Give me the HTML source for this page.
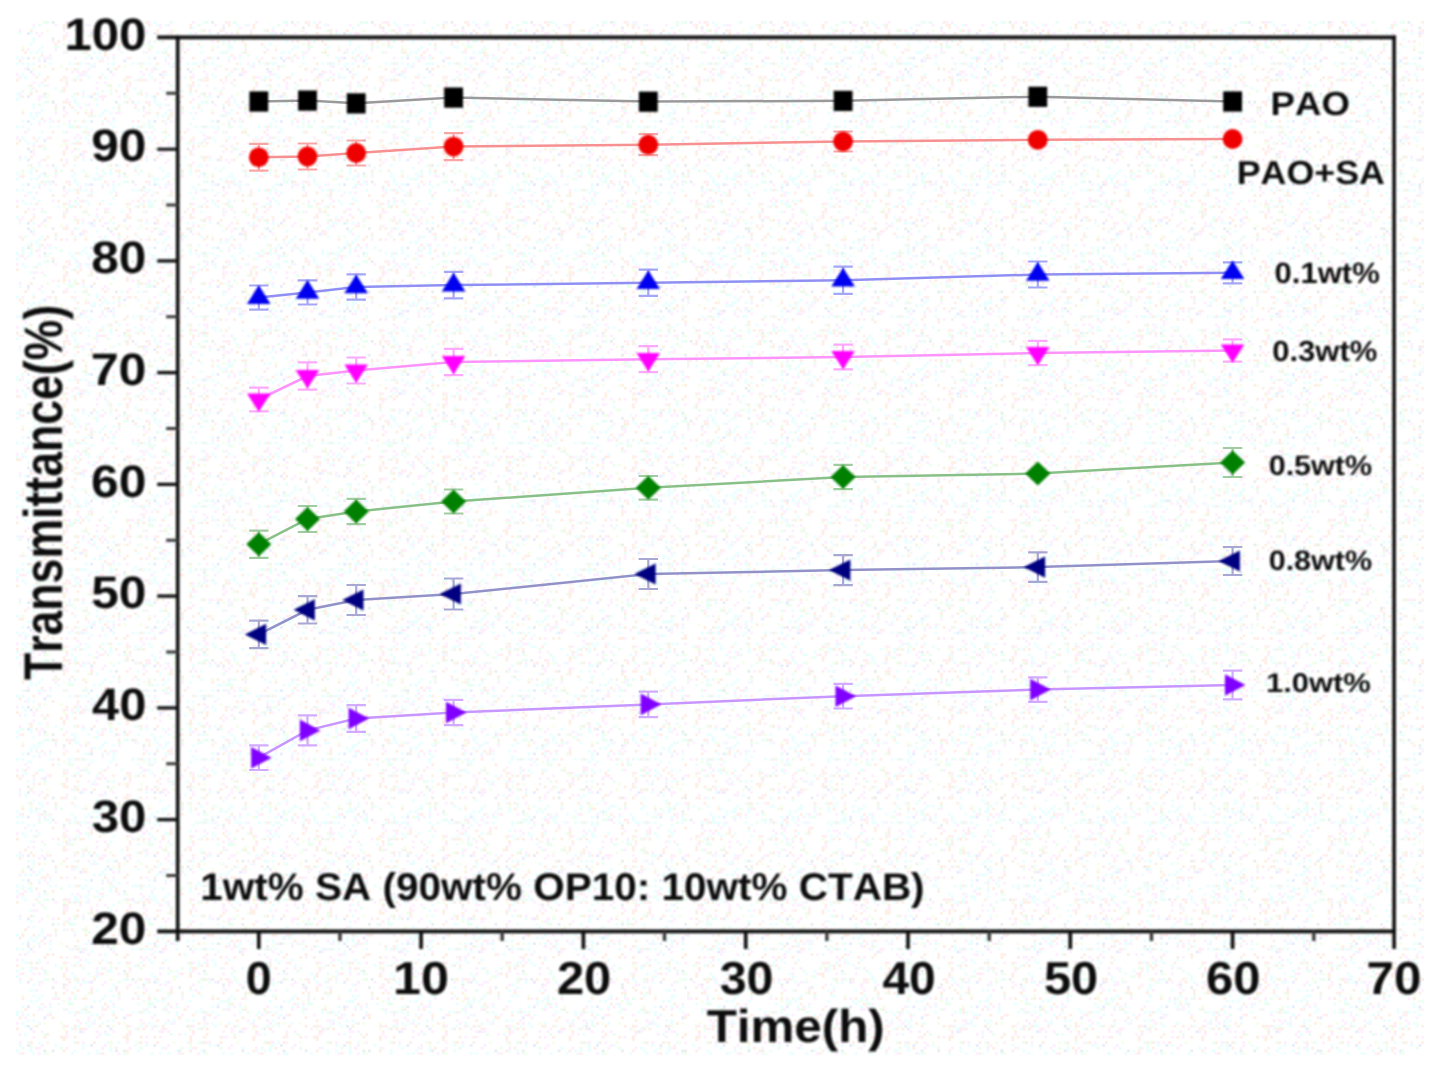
<!DOCTYPE html>
<html><head><meta charset="utf-8"><title>Transmittance vs Time</title>
<style>html,body{margin:0;padding:0;background:#fff;}body{width:1435px;height:1071px;overflow:hidden;font-family:"Liberation Sans",sans-serif;}svg{display:block}</style>
</head><body>
<svg width="1435" height="1071" viewBox="0 0 1435 1071" font-family="Liberation Sans, sans-serif" font-weight="bold" text-rendering="geometricPrecision" style="font-kerning:none">
<defs><pattern id="nz1" width="29" height="29" patternUnits="userSpaceOnUse" patternTransform="translate(16,21) scale(2.75)"><g fill="none" stroke-width="1"><path d="M10,0.5h1M21,0.5h1M22,1.5h1M25,1.5h1M6,2.5h1M5,4.5h1M6,6.5h1M5,8.5h1M19,8.5h1M15,9.5h1M9,11.5h1M0,13.5h1M4,15.5h1M6,15.5h1M28,15.5h1M27,16.5h1M22,17.5h1M3,20.5h1M4,23.5h1M8,23.5h1M14,24.5h1M5,25.5h1M24,25.5h1M0,26.5h1M5,26.5h1M10,27.5h1M20,27.5h1M26,27.5h1M0,28.5h1M21,28.5h1" stroke="#e8ffff"/><path d="M11,0.5h1M8,1.5h1M26,5.5h1M21,7.5h1M19,9.5h1M20,9.5h1M17,11.5h1M24,11.5h1M26,12.5h1M2,25.5h1M16,25.5h1" stroke="#e8ffee"/><path d="M13,0.5h1M17,2.5h1M4,17.5h1M10,26.5h1" stroke="#e8eeee"/><path d="M18,0.5h1M19,1.5h1M22,4.5h1M27,4.5h1M17,5.5h1M27,5.5h1M15,7.5h1M24,7.5h1M3,11.5h1M25,11.5h1M6,13.5h1M12,13.5h1M1,14.5h1M22,15.5h1M8,16.5h1M18,17.5h1M21,17.5h1M24,18.5h1M11,20.5h1M10,21.5h1M16,21.5h1M21,21.5h1M5,23.5h1M7,25.5h1M2,27.5h1" stroke="#ffeee4"/><path d="M19,0.5h1M14,1.5h1M26,1.5h1M23,2.5h1M17,3.5h1M27,3.5h1M7,4.5h1M18,4.5h1M13,7.5h1M19,7.5h1M4,10.5h1M18,11.5h1M2,13.5h1M11,13.5h1M21,13.5h1M26,15.5h1M28,16.5h1M20,18.5h1M25,18.5h1M6,19.5h1M24,19.5h1M1,20.5h1M18,21.5h1M11,23.5h1M1,27.5h1M8,27.5h1" stroke="#ffeeff"/><path d="M17,8.5h1M25,10.5h1M10,16.5h1M16,16.5h1M6,17.5h1M5,24.5h1M11,27.5h1M28,28.5h1" stroke="#f5ffe8"/><path d="M10,14.5h1M5,18.5h1M23,19.5h1" stroke="#e6ecff"/></g></pattern><pattern id="nz2" width="23" height="23" patternUnits="userSpaceOnUse" patternTransform="translate(16,21) scale(2.75)"><g fill="none" stroke-width="1"><path d="M10,0.5h1M21,3.5h1M14,9.5h1" stroke="#e8ffee"/><path d="M18,0.5h1M6,1.5h1M1,3.5h1M9,4.5h1M8,5.5h1M18,5.5h1M14,10.5h1M12,12.5h1M10,13.5h1M8,14.5h1M3,17.5h1M22,18.5h1M0,19.5h1M18,20.5h1M6,22.5h1M9,22.5h1" stroke="#ffeeff"/><path d="M17,1.5h1M17,2.5h1M5,3.5h1M22,3.5h1M17,6.5h1M14,8.5h1M20,8.5h1M2,10.5h1M9,12.5h1M22,15.5h1M13,17.5h1M7,20.5h1M17,20.5h1M0,21.5h1M21,21.5h1M18,22.5h1" stroke="#ffeee4"/><path d="M11,3.5h1M2,9.5h1M17,21.5h1" stroke="#f5ffe8"/><path d="M1,4.5h1M21,6.5h1M6,7.5h1M9,9.5h1M21,9.5h1M8,10.5h1M5,11.5h1M7,11.5h1M2,13.5h1M8,13.5h1M12,13.5h1M0,15.5h1M2,15.5h1M12,15.5h1M19,15.5h1M21,15.5h1M4,16.5h1M2,19.5h1M8,19.5h1M3,20.5h1M22,20.5h1M20,21.5h1" stroke="#e8ffff"/><path d="M4,4.5h1M4,13.5h1" stroke="#e6ecff"/><path d="M13,6.5h1" stroke="#e8eeee"/></g></pattern><filter id="soft" x="-2%" y="-2%" width="104%" height="104%"><feGaussianBlur stdDeviation="0.9"/></filter></defs>
<rect width="1435" height="1071" fill="#fff"/>
<rect x="16" y="21" width="1408" height="1034" fill="url(#nz1)"/>
<rect x="16" y="21" width="1408" height="1034" fill="url(#nz2)"/>
<polyline points="258.8,101.4 307.5,100.5 356.2,103.3 453.6,97.5 648.3,101.6 843.1,100.8 1037.8,96.7 1232.6,101.4" fill="none" stroke="#9a9a9a" stroke-width="2.5"/>
<polyline points="258.8,157.3 307.5,156.5 356.2,153.0 453.6,146.6 648.3,144.7 843.1,141.5 1037.8,139.8 1232.6,139.0" fill="none" stroke="#f79090" stroke-width="2.5"/>
<path d="M258.8,143.9V170.7M249.1,143.9h19.4M249.1,170.7h19.4M307.5,143.5V169.5M297.8,143.5h19.4M297.8,169.5h19.4M356.2,140.5V165.5M346.5,140.5h19.4M346.5,165.5h19.4M453.6,133.1V160.1M443.9,133.1h19.4M443.9,160.1h19.4M648.3,134.2V155.2M638.6,134.2h19.4M638.6,155.2h19.4M843.1,131.5V151.5M833.4,131.5h19.4M833.4,151.5h19.4" stroke="#f79090" stroke-width="2.2" fill="none" opacity="0.8"/>
<polyline points="258.8,297.6 307.5,292.4 356.2,287.0 453.6,285.1 648.3,282.8 843.1,280.2 1037.8,274.5 1232.6,272.8" fill="none" stroke="#9090f4" stroke-width="2.5"/>
<path d="M258.8,285.5V309.7M249.1,285.5h19.4M249.1,309.7h19.4M307.5,280.3V304.5M297.8,280.3h19.4M297.8,304.5h19.4M356.2,274.3V299.7M346.5,274.3h19.4M346.5,299.7h19.4M453.6,271.9V298.3M443.9,271.9h19.4M443.9,298.3h19.4M648.3,269.7V295.9M638.6,269.7h19.4M638.6,295.9h19.4M843.1,266.6V293.8M833.4,266.6h19.4M833.4,293.8h19.4M1037.8,261.5V287.5M1028.1,261.5h19.4M1028.1,287.5h19.4M1232.6,262.3V283.3M1222.9,262.3h19.4M1222.9,283.3h19.4" stroke="#9090f4" stroke-width="2.2" fill="none" opacity="0.8"/>
<polyline points="258.8,399.5 307.5,376.0 356.2,370.5 453.6,362.0 648.3,359.2 843.1,357.0 1037.8,353.0 1232.6,350.5" fill="none" stroke="#fc94fc" stroke-width="2.5"/>
<path d="M258.8,387.7V411.3M249.1,387.7h19.4M249.1,411.3h19.4M307.5,362.4V389.6M297.8,362.4h19.4M297.8,389.6h19.4M356.2,357.5V383.5M346.5,357.5h19.4M346.5,383.5h19.4M453.6,348.8V375.2M443.9,348.8h19.4M443.9,375.2h19.4M648.3,346.2V372.2M638.6,346.2h19.4M638.6,372.2h19.4M843.1,344.6V369.4M833.4,344.6h19.4M833.4,369.4h19.4M1037.8,340.8V365.2M1028.1,340.8h19.4M1028.1,365.2h19.4M1232.6,339.4V361.6M1222.9,339.4h19.4M1222.9,361.6h19.4" stroke="#fc94fc" stroke-width="2.2" fill="none" opacity="0.8"/>
<polyline points="258.8,544.2 307.5,519.0 356.2,511.5 453.6,501.5 648.3,487.8 843.1,477.0 1037.8,473.6 1232.6,462.5" fill="none" stroke="#88c088" stroke-width="2.5"/>
<path d="M258.8,530.6V557.8M249.1,530.6h19.4M249.1,557.8h19.4M307.5,506.0V532.0M297.8,506.0h19.4M297.8,532.0h19.4M356.2,498.9V524.1M346.5,498.9h19.4M346.5,524.1h19.4M453.6,489.5V513.5M443.9,489.5h19.4M443.9,513.5h19.4M648.3,476.0V499.6M638.6,476.0h19.4M638.6,499.6h19.4M843.1,464.9V489.1M833.4,464.9h19.4M833.4,489.1h19.4M1232.6,448.0V477.0M1222.9,448.0h19.4M1222.9,477.0h19.4" stroke="#88c088" stroke-width="2.2" fill="none" opacity="0.8"/>
<polyline points="258.8,634.4 307.5,609.8 356.2,600.0 453.6,594.0 648.3,574.0 843.1,570.1 1037.8,567.1 1232.6,561.0" fill="none" stroke="#9292c8" stroke-width="2.5"/>
<path d="M258.8,620.7V648.1M249.1,620.7h19.4M249.1,648.1h19.4M307.5,596.1V623.5M297.8,596.1h19.4M297.8,623.5h19.4M356.2,585.0V615.0M346.5,585.0h19.4M346.5,615.0h19.4M453.6,578.5V609.5M443.9,578.5h19.4M443.9,609.5h19.4M648.3,559.0V589.0M638.6,559.0h19.4M638.6,589.0h19.4M843.1,555.1V585.1M833.4,555.1h19.4M833.4,585.1h19.4M1037.8,552.3V581.9M1028.1,552.3h19.4M1028.1,581.9h19.4M1232.6,547.0V575.0M1222.9,547.0h19.4M1222.9,575.0h19.4" stroke="#9292c8" stroke-width="2.2" fill="none" opacity="0.8"/>
<polyline points="258.8,757.7 307.5,730.4 356.2,718.5 453.6,712.5 648.3,704.4 843.1,696.2 1037.8,689.6 1232.6,685.0" fill="none" stroke="#c896ff" stroke-width="2.5"/>
<path d="M258.8,745.4V770.0M249.1,745.4h19.4M249.1,770.0h19.4M307.5,715.4V745.4M297.8,715.4h19.4M297.8,745.4h19.4M356.2,705.1V731.9M346.5,705.1h19.4M346.5,731.9h19.4M453.6,699.8V725.2M443.9,699.8h19.4M443.9,725.2h19.4M648.3,691.7V717.1M638.6,691.7h19.4M638.6,717.1h19.4M843.1,683.9V708.5M833.4,683.9h19.4M833.4,708.5h19.4M1037.8,677.4V701.8M1028.1,677.4h19.4M1028.1,701.8h19.4M1232.6,670.7V699.3M1222.9,670.7h19.4M1222.9,699.3h19.4" stroke="#c896ff" stroke-width="2.2" fill="none" opacity="0.8"/>
<g filter="url(#soft)">
<rect x="249.4" y="91.4" width="18.8" height="20.2" fill="#000000"/>
<rect x="298.1" y="90.5" width="18.8" height="20.2" fill="#000000"/>
<rect x="346.8" y="93.3" width="18.8" height="20.2" fill="#000000"/>
<rect x="444.2" y="87.5" width="18.8" height="20.2" fill="#000000"/>
<rect x="638.9" y="91.6" width="18.8" height="20.2" fill="#000000"/>
<rect x="833.7" y="90.8" width="18.8" height="20.2" fill="#000000"/>
<rect x="1028.4" y="86.7" width="18.8" height="20.2" fill="#000000"/>
<rect x="1223.2" y="91.4" width="18.8" height="20.2" fill="#000000"/>
<circle cx="258.8" cy="157.3" r="9.9" fill="#ee0000"/>
<circle cx="307.5" cy="156.5" r="9.9" fill="#ee0000"/>
<circle cx="356.2" cy="153.0" r="9.9" fill="#ee0000"/>
<circle cx="453.6" cy="146.6" r="9.9" fill="#ee0000"/>
<circle cx="648.3" cy="144.7" r="9.9" fill="#ee0000"/>
<circle cx="843.1" cy="141.5" r="9.9" fill="#ee0000"/>
<circle cx="1037.8" cy="139.8" r="9.9" fill="#ee0000"/>
<circle cx="1232.6" cy="139.0" r="9.9" fill="#ee0000"/>
<path d="M258.8,285.2 L270.6,303.9 L247.0,303.9Z" fill="#0000ee"/>
<path d="M307.5,280.0 L319.3,298.7 L295.7,298.7Z" fill="#0000ee"/>
<path d="M356.2,274.6 L368.0,293.3 L344.4,293.3Z" fill="#0000ee"/>
<path d="M453.6,272.7 L465.4,291.4 L441.8,291.4Z" fill="#0000ee"/>
<path d="M648.3,270.4 L660.1,289.1 L636.5,289.1Z" fill="#0000ee"/>
<path d="M843.1,267.8 L854.9,286.5 L831.3,286.5Z" fill="#0000ee"/>
<path d="M1037.8,262.1 L1049.6,280.8 L1026.0,280.8Z" fill="#0000ee"/>
<path d="M1232.6,260.4 L1244.4,279.1 L1220.8,279.1Z" fill="#0000ee"/>
<path d="M258.8,411.7 L270.6,393.4 L247.0,393.4Z" fill="#ff00ff"/>
<path d="M307.5,388.2 L319.3,369.9 L295.7,369.9Z" fill="#ff00ff"/>
<path d="M356.2,382.7 L368.0,364.4 L344.4,364.4Z" fill="#ff00ff"/>
<path d="M453.6,374.2 L465.4,355.9 L441.8,355.9Z" fill="#ff00ff"/>
<path d="M648.3,371.4 L660.1,353.1 L636.5,353.1Z" fill="#ff00ff"/>
<path d="M843.1,369.2 L854.9,350.9 L831.3,350.9Z" fill="#ff00ff"/>
<path d="M1037.8,365.2 L1049.6,346.9 L1026.0,346.9Z" fill="#ff00ff"/>
<path d="M1232.6,362.7 L1244.4,344.4 L1220.8,344.4Z" fill="#ff00ff"/>
<path d="M258.8,532.2 L271.3,544.2 L258.8,556.2 L246.3,544.2Z" fill="#008000"/>
<path d="M307.5,507.0 L320.0,519.0 L307.5,531.0 L295.0,519.0Z" fill="#008000"/>
<path d="M356.2,499.5 L368.7,511.5 L356.2,523.5 L343.7,511.5Z" fill="#008000"/>
<path d="M453.6,489.5 L466.1,501.5 L453.6,513.5 L441.1,501.5Z" fill="#008000"/>
<path d="M648.3,475.8 L660.8,487.8 L648.3,499.8 L635.8,487.8Z" fill="#008000"/>
<path d="M843.1,465.0 L855.6,477.0 L843.1,489.0 L830.6,477.0Z" fill="#008000"/>
<path d="M1037.8,461.6 L1050.3,473.6 L1037.8,485.6 L1025.3,473.6Z" fill="#008000"/>
<path d="M1232.6,450.5 L1245.1,462.5 L1232.6,474.5 L1220.1,462.5Z" fill="#008000"/>
<path d="M244.8,634.4 L266.1,623.8 L266.1,645.0Z" fill="#000080"/>
<path d="M293.5,609.8 L314.8,599.2 L314.8,620.4Z" fill="#000080"/>
<path d="M342.2,600.0 L363.5,589.4 L363.5,610.6Z" fill="#000080"/>
<path d="M439.6,594.0 L460.9,583.4 L460.9,604.6Z" fill="#000080"/>
<path d="M634.3,574.0 L655.6,563.4 L655.6,584.6Z" fill="#000080"/>
<path d="M829.1,570.1 L850.4,559.5 L850.4,580.7Z" fill="#000080"/>
<path d="M1023.8,567.1 L1045.1,556.5 L1045.1,577.7Z" fill="#000080"/>
<path d="M1218.6,561.0 L1239.9,550.4 L1239.9,571.6Z" fill="#000080"/>
<path d="M271.7,757.7 L251.2,746.9 L251.2,768.5Z" fill="#8000ff"/>
<path d="M320.4,730.4 L299.9,719.6 L299.9,741.2Z" fill="#8000ff"/>
<path d="M369.1,718.5 L348.6,707.7 L348.6,729.3Z" fill="#8000ff"/>
<path d="M466.5,712.5 L446.0,701.7 L446.0,723.3Z" fill="#8000ff"/>
<path d="M661.2,704.4 L640.7,693.6 L640.7,715.2Z" fill="#8000ff"/>
<path d="M856.0,696.2 L835.5,685.4 L835.5,707.0Z" fill="#8000ff"/>
<path d="M1050.7,689.6 L1030.2,678.8 L1030.2,700.4Z" fill="#8000ff"/>
<path d="M1245.5,685.0 L1225.0,674.2 L1225.0,695.8Z" fill="#8000ff"/>
<g stroke="#0c0c0c" fill="none">
<path d="M157.2,37.4H1395.8999999999999" stroke-width="3.6"/>
<path d="M157.2,931.4H1395.8999999999999" stroke-width="3.6"/>
<path d="M177.7,35.6V940.9" stroke-width="3.6"/>
<path d="M1394.1,35.6V948.9" stroke-width="3.6"/>
<path d="M157.2,819.6H177.7M157.2,707.9H177.7M157.2,596.1H177.7M157.2,484.4H177.7M157.2,372.6H177.7M157.2,260.9H177.7M157.2,149.2H177.7" stroke-width="3.1"/>
<path d="M166.2,875.5H177.7M166.2,763.8H177.7M166.2,652.0H177.7M166.2,540.3H177.7M166.2,428.5H177.7M166.2,316.8H177.7M166.2,205.0H177.7M166.2,93.3H177.7" stroke-width="3.1" stroke="#3a3a3a"/>
<path d="M258.8,931.4V948.9M421.1,931.4V948.9M583.4,931.4V948.9M745.7,931.4V948.9M908.0,931.4V948.9M1070.3,931.4V948.9M1232.6,931.4V948.9" stroke-width="3.6"/>
<path d="M340.0,931.4V940.9M502.2,931.4V940.9M664.5,931.4V940.9M826.9,931.4V940.9M989.2,931.4V940.9M1151.5,931.4V940.9M1313.8,931.4V940.9" stroke-width="3.4" stroke="#3a3a3a"/>
</g>
<text transform="translate(91.19,943.70) scale(1.0883,1)" font-size="45.59" fill="#111111" >20</text>
<text transform="translate(91.69,831.95) scale(1.0779,1)" font-size="45.59" fill="#111111" >30</text>
<text transform="translate(92.07,720.20) scale(1.0703,1)" font-size="45.59" fill="#111111" >40</text>
<text transform="translate(91.32,608.45) scale(1.0857,1)" font-size="45.59" fill="#111111" >50</text>
<text transform="translate(91.06,496.70) scale(1.0909,1)" font-size="45.59" fill="#111111" >60</text>
<text transform="translate(90.67,384.95) scale(1.0988,1)" font-size="45.59" fill="#111111" >70</text>
<text transform="translate(91.32,273.20) scale(1.0857,1)" font-size="45.59" fill="#111111" >80</text>
<text transform="translate(91.19,161.45) scale(1.0883,1)" font-size="45.59" fill="#111111" >90</text>
<text transform="translate(64.53,49.70) scale(1.0764,1)" font-size="45.59" fill="#111111" >100</text>
<text transform="translate(245.85,994.30) scale(1.0077,1)" font-size="46.31" fill="#111111" >0</text>
<text transform="translate(393.06,994.30) scale(1.0861,1)" font-size="46.31" fill="#111111" >10</text>
<text transform="translate(556.91,994.30) scale(1.0548,1)" font-size="46.31" fill="#111111" >20</text>
<text transform="translate(719.71,994.30) scale(1.0448,1)" font-size="46.31" fill="#111111" >30</text>
<text transform="translate(882.38,994.30) scale(1.0373,1)" font-size="46.31" fill="#111111" >40</text>
<text transform="translate(1043.94,994.30) scale(1.0523,1)" font-size="46.31" fill="#111111" >50</text>
<text transform="translate(1205.99,994.30) scale(1.0573,1)" font-size="46.31" fill="#111111" >60</text>
<text transform="translate(1366.50,994.30) scale(1.0650,1)" font-size="46.31" fill="#111111" >70</text>
<text transform="translate(706.71,1041.90) scale(1.0691,1)" font-size="46.11" fill="#111111" >Time(h)</text>
<text transform="translate(200.27,900.30) scale(1.0468,1)" font-size="38.69" fill="#111111" >1wt% SA (90wt% OP10: 10wt% CTAB)</text>
<text transform="translate(61.70,680.05) scale(1.2230,1) rotate(-90)" font-size="44.60" fill="#111111">Transmittance</text>
<text transform="translate(61.70,375.36) scale(1.1882,1) rotate(-90)" font-size="45.41" fill="#111111">(%)</text>
<text transform="translate(1270.62,115.30) scale(1.1038,1)" font-size="33.16" fill="#111111" >PAO</text>
<text transform="translate(1236.67,184.30) scale(1.0804,1)" font-size="33.16" fill="#111111" >PAO+SA</text>
<text transform="translate(1274.53,283.30) scale(1.0522,1)" font-size="29.53" fill="#111111" >0.1wt%</text>
<text transform="translate(1272.14,361.00) scale(1.0669,1)" font-size="29.09" fill="#111111" >0.3wt%</text>
<text transform="translate(1268.66,474.60) scale(1.0874,1)" font-size="28.07" fill="#111111" >0.5wt%</text>
<text transform="translate(1268.66,569.80) scale(1.0874,1)" font-size="28.07" fill="#111111" >0.8wt%</text>
<text transform="translate(1266.07,692.30) scale(1.1425,1)" font-size="27.05" fill="#111111" >1.0wt%</text>
</g>
</svg>
</body></html>
